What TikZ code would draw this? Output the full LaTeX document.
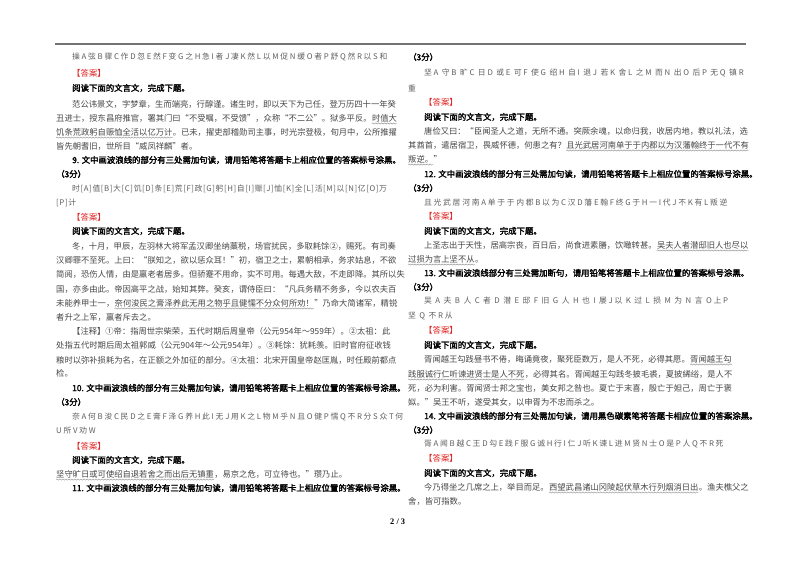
\documentclass[tikz,border=0pt]{standalone}
\usepackage{fontspec}
\setmainfont{Liberation Serif}
\newfontfamily\cjk{Noto Sans CJK SC}[AutoFakeBold=2.2]
\newfontfamily\cjkopt{Noto Sans CJK SC}[LetterSpace=22]
\newfontfamily\cjkoptb{Noto Sans CJK SC}[LetterSpace=8]
\usetikzlibrary{decorations.pathmorphing}
\definecolor{ansred}{RGB}{225,35,35}
\definecolor{bodyc}{RGB}{70,70,70}
\definecolor{optc}{RGB}{95,95,95}
\tikzset{
 tx/.style={anchor=west,inner sep=0pt,font=\cjk\fontsize{8.3}{9}\selectfont,text=bodyc},
 q/.style={anchor=west,inner sep=0pt,font=\cjk\bfseries\fontsize{8.4}{9}\selectfont,text=black},
 opt/.style={anchor=west,inner sep=0pt,font=\cjkopt\fontsize{7.8}{9}\selectfont,text=optc},
 optb/.style={anchor=west,inner sep=0pt,font=\cjkoptb\fontsize{7.8}{9}\selectfont,text=optc},
 ans/.style={anchor=west,inner sep=0pt,font=\cjk\fontsize{8.4}{9}\selectfont,text=ansred},
 wav/.style={draw=black!45,line width=0.4pt,decorate,decoration={snake,amplitude=0.6pt,segment length=3pt}}
}
\newcommand\UL[1]{\draw[wav] ([yshift=-1.5pt]#1.south west) -- ([yshift=-1.5pt]#1.south east);}
\begin{document}
\begin{tikzpicture}[x=1pt,y=-1pt]
\useasboundingbox (0,0) rectangle (800,565);
\fill[white] (0,0) rectangle (800,565);
\draw[black!55,line width=1.2pt] (55,44) -- (746,44);
% left column
\node[opt] (a1) at (72,57) {操A弦B骤C作D忽E然F变G之H急I者J凄K然L以M促N缓O者P舒Q然R以S和};
\node[ans] (a2) at (72,73) {【答案】};
\node[q] (a3) at (72,88) {阅读下面的文言文，完成下题。};
\node[tx] (a4) at (72,104) {范公讳景文，字梦章，生而端亮，行醇谨。诸生时，即以天下为己任，登万历四十一年癸};
\node[tx] (a5) at (56,118) {丑进士，授东昌府推官，署其门曰“不受嘱，不受馈”，众称“不二公”。狱多平反。};
\node[tx,anchor=base west] (a5u) at (a5.base east) {时值大};
\node[tx] (a6u) at (56,132) {饥条荒政躬自赈恤全活以亿万计};
\node[tx,anchor=base west] (a6) at (a6u.base east) {。已未，擢吏部稽勋司主事，时光宗登极，旬月中，公所推擢};
\node[tx] (a7) at (56,146) {皆先朝耆旧，世所目“威凤祥麟”者。};
\node[q] (a8) at (72,160) {9. 文中画波浪线的部分有三处需加句读，请用铅笔将答题卡上相应位置的答案标号涂黑。};
\node[q] (a9) at (56,174) {（3分）};
\node[optb] (a10) at (72,189) {时[A]值[B]大[C]饥[D]条[E]荒[F]政[G]躬[H]自[I]赈[J]恤[K]全[L]活[M]以[N]亿[O]万};
\node[optb] (a11) at (56,203) {[P]计};
\node[ans] (a12) at (72,217) {【答案】};
\node[q] (a13) at (72,231) {阅读下面的文言文，完成下题。};
\node[tx] (a14) at (72,246) {冬，十月，甲辰，左羽林大将军孟汉卿坐纳藁税，场官扰民，多取耗馀②，赐死。有司奏};
\node[tx] (a15) at (56,260) {汉卿罪不至死。上曰：“朕知之，欲以惩众耳！”初，宿卫之士，累朝相承，务求姑息，不欲};
\node[tx] (a16) at (56,274) {简阅，恐伤人情，由是羸老者居多。但骄蹇不用命，实不可用。每遇大敌，不走即降。其所以失};
\node[tx] (a17) at (56,289) {国，亦多由此。帝因高平之战，始知其弊。癸亥，谓侍臣曰：“凡兵务精不务多，今以农夫百};
\node[tx] (a18) at (56,303) {未能养甲士一，};
\node[tx,anchor=base west] (a18u) at (a18.base east) {奈何浚民之膏泽养此无用之物乎且健懦不分众何所劝！};
\node[tx,anchor=base west] (a18b) at (a18u.base east) {”乃命大简诸军，精锐};
\node[tx] (a19) at (56,317) {者升之上军，羸者斥去之。};
\node[tx] (a20) at (72,331) {【注释】①帝：指周世宗柴荣，五代时期后周皇帝（公元954年～959年）。②太祖：此};
\node[tx] (a21) at (56,345) {处指五代时期后周太祖郭威（公元904年～公元954年）。③耗馀：犹耗羡。旧时官府征收钱};
\node[tx] (a22) at (56,360) {粮时以弥补损耗为名，在正额之外加征的部分。④太祖：北宋开国皇帝赵匡胤，时任殿前都点};
\node[tx] (a23) at (56,373) {检。};
\node[q] (a24) at (72,388) {10. 文中画波浪线的部分有三处需加句读，请用铅笔将答题卡上相应位置的答案标号涂黑。};
\node[q] (a25) at (56,402) {（3分）};
\node[opt] (a26) at (72,417) {奈A何B浚C民D之E膏F泽G养H此I无J用K之L物M乎N且O健P懦Q不R分S众T何};
\node[opt] (a27) at (56,431) {U所V劝W};
\node[ans] (a28) at (72,446) {【答案】};
\node[q] (a29) at (72,460) {阅读下面的文言文，完成下题。};
\node[tx] (a30u) at (56,474) {坚守旷日或可使绍自退若舍之而出后无镇重};
\node[tx,anchor=base west] (a30) at (a30u.base east) {，易京之危，可立待也。”瓒乃止。};
\node[q] (a31) at (72,488) {11. 文中画波浪线的部分有三处需加句读，请用铅笔将答题卡上相应位置的答案标号涂黑。};
\node[q,font=\bfseries\fontsize{8.4}{9}\selectfont] (pg) at (390,522) {2 / 3};
% right column
\node[q] (b1) at (408,57) {（3分）};
\node[opt] (b2) at (424,73) {坚A 守B 旷C 日D 或E 可F 使G 绍H 自I 退J 若K 舍L 之M 而N 出O 后P 无Q 镇R};
\node[opt] (b3) at (408,88) {重};
\node[ans] (b4) at (424,102) {【答案】};
\node[q] (b5) at (424,117) {阅读下面的文言文，完成下题。};
\node[tx] (b6) at (424,131) {唐俭又曰：“臣闻圣人之道，无所不通。突厥余魂，以命归我，收居内地，教以礼法，选};
\node[tx] (b7) at (408,145) {其酋首，遣居宿卫，畏威怀德，何患之有？};
\node[tx,anchor=base west] (b7u) at (b7.base east) {且光武居河南单于于内郡以为汉藩翰终于一代不有};
\node[tx] (b8u) at (408,159) {叛逆。};
\node[tx,anchor=base west] (b8) at (b8u.base east) {”};
\node[q] (b9) at (424,174) {12. 文中画波浪线的部分有三处需加句读，请用铅笔将答题卡上相应位置的答案标号涂黑。};
\node[q] (b10) at (408,188) {（3分）};
\node[opt] (b11) at (424,203) {且光武居河南A单于于内郡B以为C汉D藩E翰F终G于H一I代J不K有L叛逆};
\node[ans] (b12) at (424,216) {【答案】};
\node[q] (b13) at (424,231) {阅读下面的文言文，完成下题。};
\node[tx] (b14) at (424,245) {上圣志出于天性，居高宗丧，百日后，尚食进素膳，饮噉转甚。};
\node[tx,anchor=base west] (b14u) at (b14.base east) {吴夫人者潜邸旧人也尽以};
\node[tx] (b15u) at (408,259) {过损为言上坚不从};
\node[tx,anchor=base west] (b15) at (b15u.base east) {。};
\node[q] (b16) at (424,273) {13. 文中画波浪线部分有三处需加断句，请用铅笔将答题卡上相应位置的答案标号涂黑。};
\node[q] (b17) at (408,287) {（3分）};
\node[opt] (b18) at (424,301) {吴 A 夫 B 人 C 者 D 潜 E 邸 F 旧 G 人 H 也 I 屡J以 K 过 L 损 M 为 N 言 O上P};
\node[opt] (b19) at (408,316) {坚 Q 不R从};
\node[ans] (b20) at (424,330) {【答案】};
\node[q] (b21) at (424,345) {阅读下面的文言文，完成下题。};
\node[tx] (b22) at (424,359) {胥闻越王勾践昼书不倦，晦诵竟夜，聚死臣数万，是人不死，必得其愿。};
\node[tx,anchor=base west] (b22u) at (b22.base east) {胥闻越王勾};
\node[tx] (b23u) at (408,374) {践服诚行仁听谏进贤士是人不死};
\node[tx,anchor=base west] (b23) at (b23u.base east) {，必得其名。胥闻越王勾践冬披毛裘，夏披絺绤，是人不};
\node[tx] (b24) at (408,388) {死，必为利害。胥闻贤士邦之宝也，美女邦之咎也。夏亡于末喜，殷亡于妲己，周亡于褒};
\node[tx] (b25) at (408,402) {姒。”吴王不听，遂受其女，以申胥为不忠而杀之。};
\node[q] (b26) at (424,416) {14. 文中画波浪线的部分有三处需加句读，请用黑色碳素笔将答题卡相应位置的答案涂黑。};
\node[q] (b27) at (408,430) {（3分）};
\node[opt] (b28) at (424,444) {胥A闻B越C王D勾E践F服G诚H行I仁J听K谏L进M贤N士O是P人Q不R死};
\node[ans] (b29) at (424,458) {【答案】};
\node[q] (b30) at (424,473) {阅读下面的文言文，完成下题。};
\node[tx] (b31) at (424,487) {今乃得坐之几席之上，举目而足。};
\node[tx,anchor=base west] (b31u) at (b31.base east) {西望武昌诸山冈陵起伏草木行列烟消日出};
\node[tx,anchor=base west] (b31b) at (b31u.base east) {。渔夫樵父之};
\node[tx] (b32) at (408,501) {舍，皆可指数。};
\UL{a5u}\UL{a6u}\UL{a18u}\UL{a30u}\UL{b7u}\UL{b8u}\UL{b14u}\UL{b15u}\UL{b22u}\UL{b23u}\UL{b31u}
\end{tikzpicture}
\end{document}
